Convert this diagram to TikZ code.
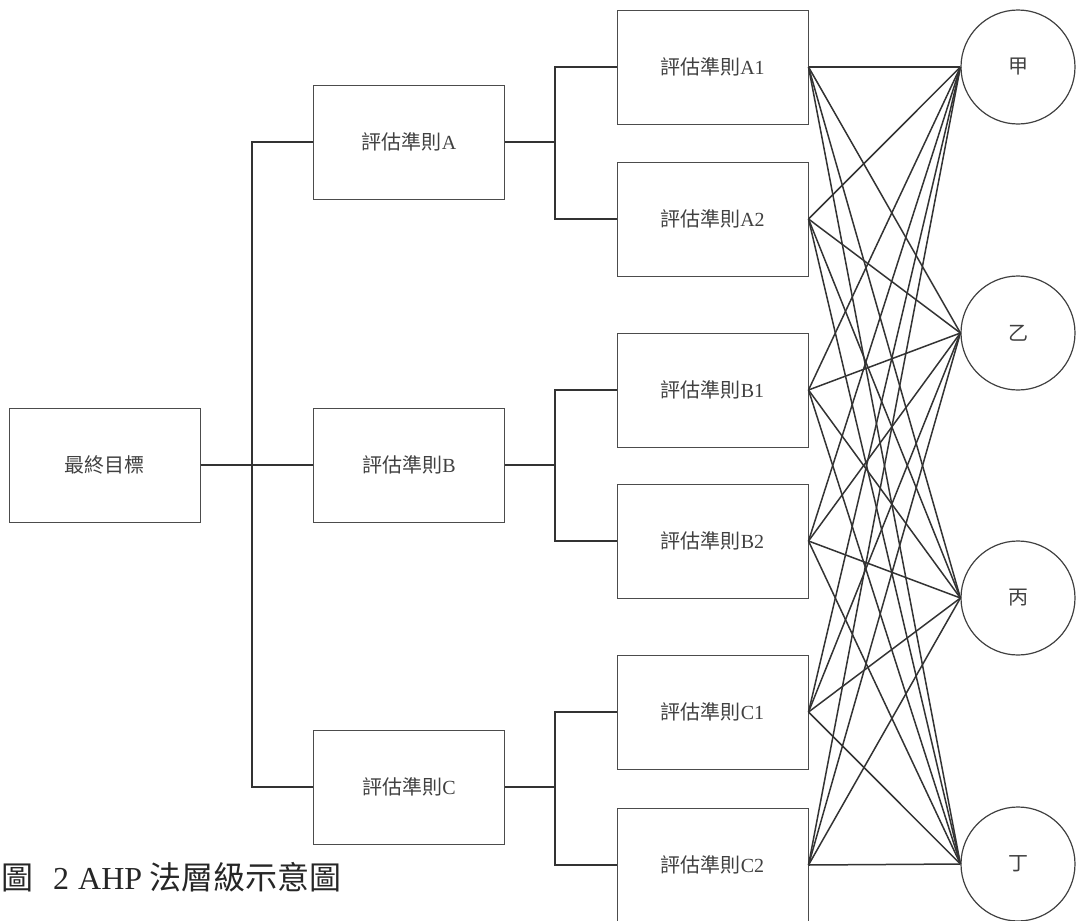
\documentclass[tikz,border=0pt]{standalone}
\usepackage{fontspec}
\setmainfont{Liberation Serif}
\newfontfamily\cjk{Noto Sans CJK TC}
\usepackage{tikz}

\begin{document}
\begin{tikzpicture}[x=1pt,y=-1pt,
  box/.style={draw=black!70,line width=1pt,rectangle,minimum width=191pt,minimum height=114pt,inner sep=0pt,font=\fontsize{20}{24}\selectfont,text=black!75},
  alt/.style={draw=black!75,line width=1.2pt,circle,minimum size=114pt,inner sep=0pt,font=\cjk\fontsize{20}{24}\selectfont,text=black!75},
  tree/.style={draw=black!80,line width=1.6pt},
  link/.style={draw=black!80,line width=1.5pt}]
\useasboundingbox (0,0) rectangle (1077,921);

% goal and criteria
\node[box] (goal) at (104.5,465) {\cjk 最終目標};
\node[box] (A) at (409,142) {{\cjk 評估準則}A};
\node[box] (B) at (409,465) {{\cjk 評估準則}B};
\node[box] (C) at (409,787) {{\cjk 評估準則}C};

% sub-criteria
\node[box] (A1) at (712.5,67) {{\cjk 評估準則}A1};
\node[box] (A2) at (712.5,219) {{\cjk 評估準則}A2};
\node[box] (B1) at (712.5,390) {{\cjk 評估準則}B1};
\node[box] (B2) at (712.5,541) {{\cjk 評估準則}B2};
\node[box] (C1) at (712.5,712) {{\cjk 評估準則}C1};
\node[box] (C2) at (712.5,865) {{\cjk 評估準則}C2};

% alternatives
\node[alt] (jia) at (1018,67) {甲};
\node[alt] (yi) at (1018,333) {乙};
\node[alt] (bing) at (1018,598) {丙};
\node[alt] (ding) at (1018,864) {丁};

% tree joints
\coordinate (j0) at (252,465);
\coordinate (ja) at (555,142);
\coordinate (jb) at (555,465);
\coordinate (jc) at (555,787);

\draw[tree] (goal.east) -- (B.west);
\draw[tree] (A.west) -| (j0) |- (C.west);
\draw[tree] (A.east) -- (ja);
\draw[tree] (A1.west) -| (ja) |- (A2.west);
\draw[tree] (B.east) -- (jb);
\draw[tree] (B1.west) -| (jb) |- (B2.west);
\draw[tree] (C.east) -- (jc);
\draw[tree] (C1.west) -| (jc) |- (C2.west);

\foreach \s in {A1,A2,B1,B2,C1,C2}
  \foreach \t in {jia,yi,bing,ding}
    \draw[link] (\s.east) -- (\t.west);

\node[anchor=west,inner sep=0pt,text=black!85,font=\fontsize{32}{38}\selectfont] (cap) at (1,877)
  {{\cjk 圖}\hspace{20pt}2\hspace{9pt}AHP\hspace{7pt}{\cjk 法層級示意圖}};
\end{tikzpicture}
\end{document}
